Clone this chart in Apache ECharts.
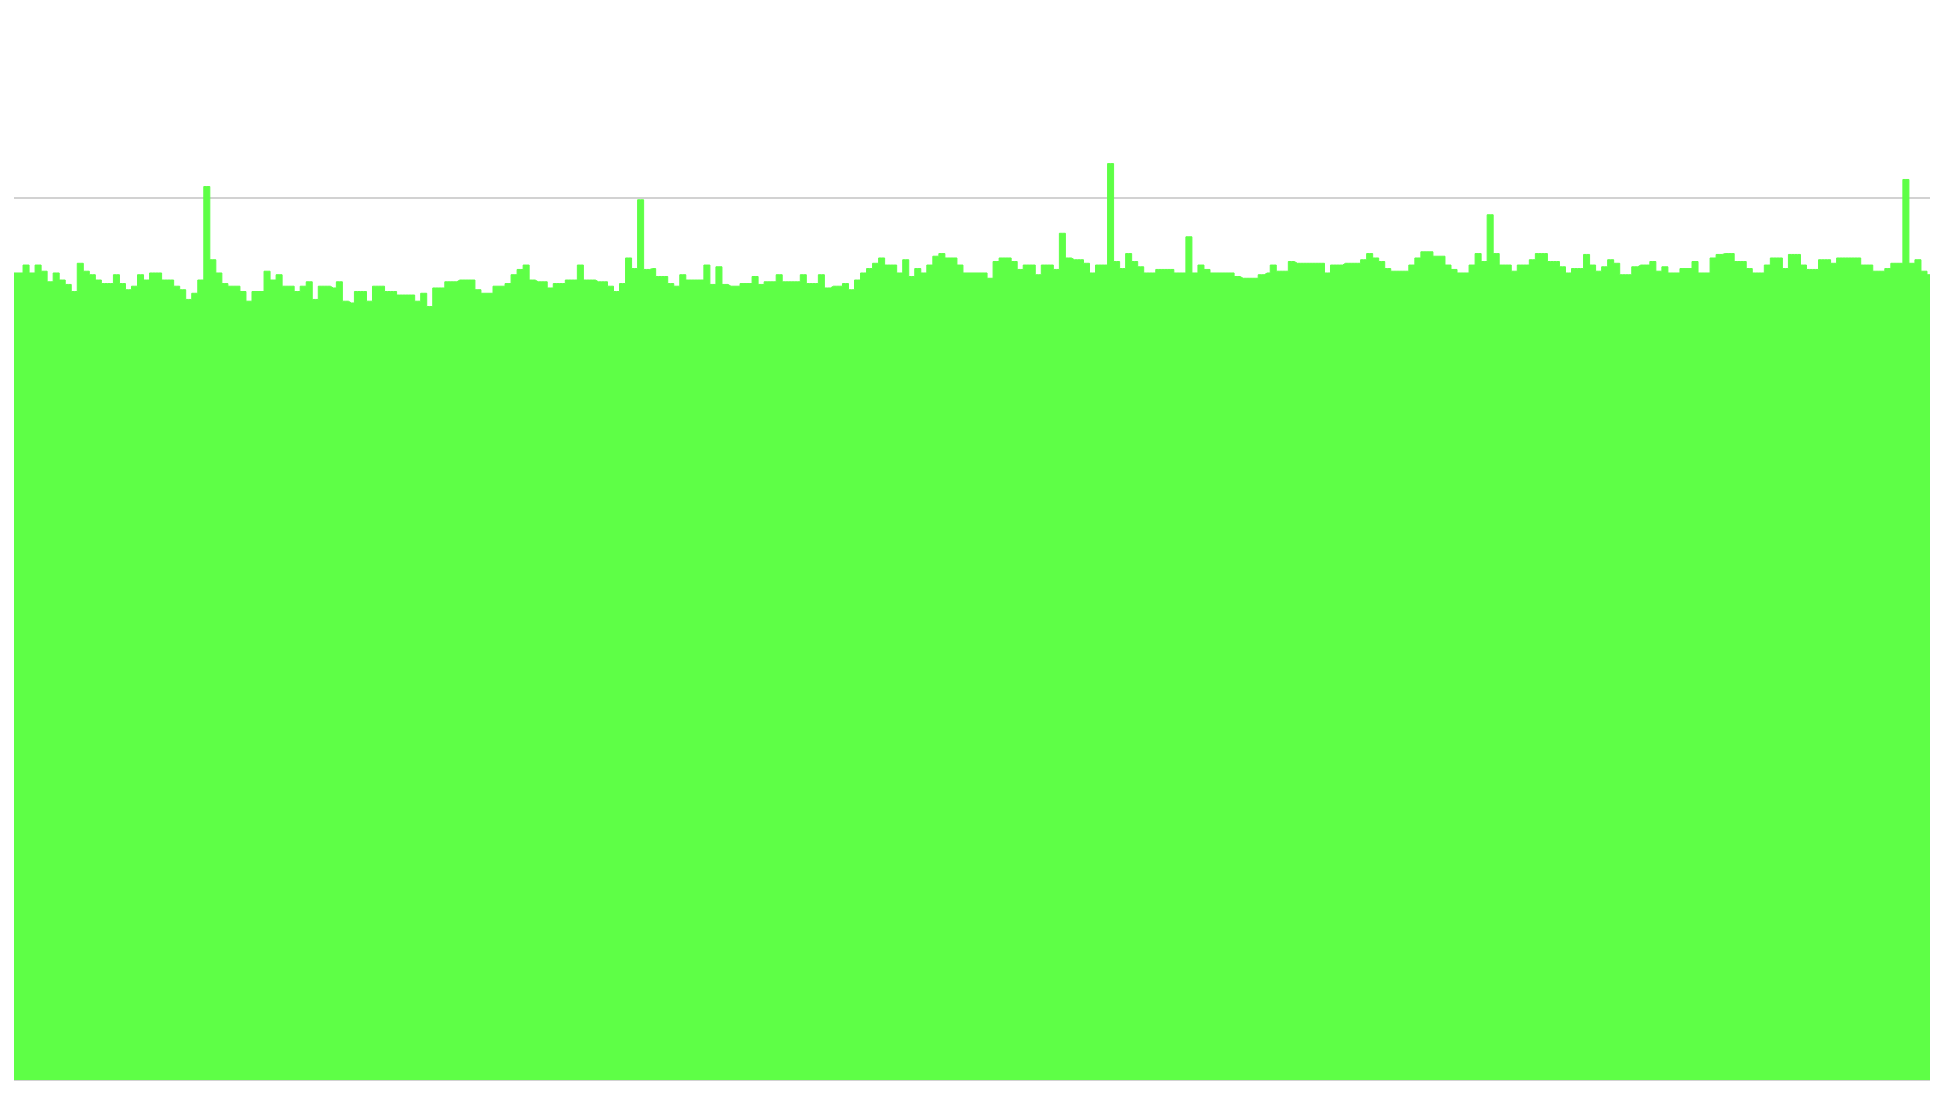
<!DOCTYPE html>
<html>
<head>
<meta charset="utf-8">
<script src="https://cdn.jsdelivr.net/npm/echarts@6/dist/echarts.min.js"></script>
<style>
html,body{margin:0;padding:0;background:#fff;}
#chart{width:1947px;height:1097px;}
</style>
</head>
<body>
<div id="chart"></div>
<script>
// Values, left to right (y-axis 0..100, top gray line = 100)
const valuesPart1 = [91.5,91.5,92.4,91.5,92.4,91.7,90.5,91.5,90.7,90.2,89.4,92.6,91.7,91.3,90.7,90.3,90.3,91.3,90.3,89.6,90.0,91.3,90.7,91.5,91.5,90.7,90.7,90.0,89.6,88.5,89.2,90.7,101.3,93.0,91.5,90.3,90.0,90.0,89.4,88.3,89.4,89.4,91.7,90.7,91.3,90.0,90.0,89.4,90.0,90.5,88.5,90.0,90.0];
const valuesPart2 = [89.8,90.5,88.3,88.1,89.4,89.4,88.3,90.0,90.0,89.4,89.4,89.0,89.0,89.0,88.3,89.2,87.7,89.8,89.8,90.5,90.5,90.7,90.7,90.7,89.6,89.2,89.2,90.0,90.0,90.3,91.3,91.9,92.4,90.7,90.5,90.5,89.8,90.3,90.3,90.7,90.7,92.4,90.7,90.7,90.5,90.5,90.0,89.4,90.3,93.2,92.0,99.8,91.9];
const valuesPart3 = [92.0,91.1,91.1,90.3,90.0,91.3,90.7,90.7,90.7,92.4,90.2,92.2,90.2,90.0,90.0,90.3,90.3,91.1,90.2,90.5,90.5,91.3,90.5,90.5,90.5,91.3,90.3,90.3,91.3,89.8,90.0,90.0,90.3,89.6,90.7,91.5,92.0,92.6,93.2,92.4,92.4,91.5,93.0,91.1,92.0,91.5,92.4,93.4,93.7,93.2,93.2,92.4,91.5,91.5];
const valuesPart4 = [91.5,91.5,90.9,92.8,93.2,93.2,92.8,91.9,92.4,92.4,91.3,92.4,92.4,91.9,96.0,93.2,93.0,93.0,92.6,91.5,92.4,92.4,103.9,92.8,92.0,93.7,92.8,92.2,91.5,91.5,91.9,91.9,91.9,91.5,91.5,95.6,91.5,92.4,91.9,91.5,91.5,91.5,91.5,91.1,90.9,90.9,90.9,91.3,91.5,92.4,91.7,91.7,92.8];
const valuesPart5 = [92.6,92.6,92.6,92.6,92.6,91.5,92.4,92.4,92.6,92.6,92.6,93.0,93.7,93.2,92.8,92.0,91.7,91.7,91.7,92.4,93.2,93.9,93.9,93.4,93.4,92.4,91.9,91.5,91.5,92.4,93.7,92.8,98.1,93.7,92.4,92.4,91.7,92.4,92.4,93.0,93.7,93.7,92.8,92.8,92.2,91.5,92.0,92.0,93.6,92.4,91.7,92.2,93.0];
const valuesPart6 = [92.6,91.3,91.3,92.2,92.4,92.4,92.8,91.7,92.2,91.5,91.5,92.0,92.0,92.8,91.5,91.5,93.2,93.6,93.7,93.7,92.8,92.8,92.0,91.5,91.5,92.4,93.2,93.2,92.0,93.6,93.6,92.4,91.9,91.9,93.0,93.0,92.6,93.2,93.2,93.2,93.2,92.4,92.4,91.7,91.7,92.0,92.6,92.6,102.1,92.6,93.0,91.7,91.3];

const values = [].concat(valuesPart1, valuesPart2, valuesPart3, valuesPart4, valuesPart5, valuesPart6);
const categories = values.map((_, i) => String(i + 1));

const yMin = 0;
const yMax = 100;

const chart = echarts.init(document.getElementById('chart'), null, {renderer: 'canvas'});
chart.setOption({
  animation: false,
  backgroundColor: '#ffffff',
  grid: {left: 14, right: 17, top: 198, bottom: 17, containLabel: false},
  xAxis: {
    type: 'category',
    data: categories,
    show: false,
    boundaryGap: false
  },
  yAxis: {
    type: 'value',
    min: yMin,
    max: yMax,
    interval: 100,
    axisLabel: {show: false},
    axisLine: {show: false},
    axisTick: {show: false},
    splitLine: {show: true, lineStyle: {color: '#d2d2d2', width: 2}}
  },
  series: [{
    type: 'line',
    data: values,
    step: 'middle',
    showSymbol: false,
    clip: false,
    lineStyle: {color: '#5eff46', width: 1},
    areaStyle: {color: '#5eff46', opacity: 1, origin: 'start'}
  }]
});
</script>
</body>
</html>
